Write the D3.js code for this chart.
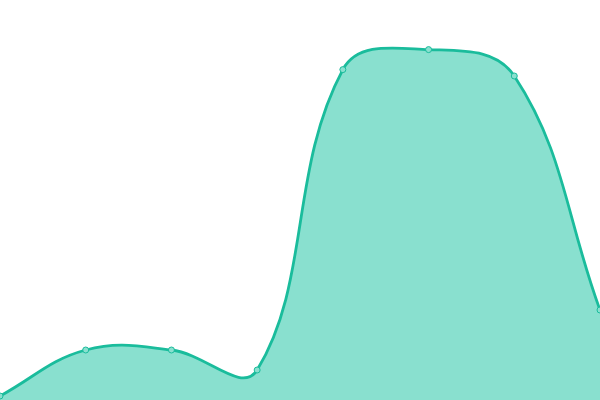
<!DOCTYPE html>
<html>
<head>
<meta charset="utf-8">
<script src="https://cdn.jsdelivr.net/npm/d3@7"></script>
<style>
  html, body { margin: 0; padding: 0; background: #fff; }
  svg { display: block; }
</style>
</head>
<body>
<div id="chart"></div>
<script>
// data
const categories = ['a', 'b', 'c', 'd', 'e', 'f', 'g', 'h']
const values = [1, 12.5, 12.5, 7.5, 82.6, 87.6, 81, 22.5]

let width = 600, height = 400

let svg = d3.select('#chart')
            .append('svg')
                .attr('width', width)
                .attr('height', height)

let x = d3.scalePoint().domain(categories).range([0, width])
let y = d3.scaleLinear().domain([0, 100]).range([height, 0])

let data = categories.map((c, i) => ({c: c, v: values[i]}))

// spline with distance weighted tangents (tension 0.4), as a d3 curve
function Spline(context) { this._context = context }
Spline.prototype = {
    areaStart() { this._line = 0 },
    areaEnd() { this._line = NaN },
    lineStart() { this._pts = [] },
    point(px, py) { this._pts.push([+px, +py]) },
    lineEnd() {
        let p = this._pts, n = p.length, t = 0.4, ctx = this._context
        if (n) {
            if (this._line) ctx.lineTo(p[0][0], p[0][1])
            else ctx.moveTo(p[0][0], p[0][1])
        }
        let cp = p.map((cur, i) => {
            let prev = p[i - 1] || cur, next = p[i + 1] || cur
            let d01 = Math.hypot(cur[0] - prev[0], cur[1] - prev[1])
            let d12 = Math.hypot(next[0] - cur[0], next[1] - cur[1])
            let s01 = d01 / (d01 + d12), s12 = d12 / (d01 + d12)
            if (isNaN(s01)) s01 = 0
            if (isNaN(s12)) s12 = 0
            let dx = next[0] - prev[0], dy = next[1] - prev[1]
            let clampY = v => Math.max(0, Math.min(height, v))
            return {
                prev: [cur[0] - t * s01 * dx, clampY(cur[1] - t * s01 * dy)],
                next: [cur[0] + t * s12 * dx, clampY(cur[1] + t * s12 * dy)]
            }
        })
        for (let i = 1; i < n; i++) {
            ctx.bezierCurveTo(cp[i - 1].next[0], cp[i - 1].next[1],
                              cp[i].prev[0], cp[i].prev[1],
                              p[i][0], p[i][1])
        }
        if (this._line || (this._line !== 0 && n === 1)) ctx.closePath()
        this._line = 1 - this._line
    }
}
let curve = context => new Spline(context)

let area = d3.area()
    .x(d => x(d.c))
    .y0(height)
    .y1(d => y(d.v))
    .curve(curve)

let line = d3.line()
    .x(d => x(d.c))
    .y(d => y(d.v))
    .curve(curve)

svg.append('path')
    .datum(data)
    .attr('d', area)
    .style('fill', '#89e0cf')

svg.append('path')
    .datum(data)
    .attr('d', line)
    .style('fill', 'none')
    .style('stroke', '#1abc9c')
    .style('stroke-width', 2.8)

svg.selectAll('circle')
    .data(data)
    .enter()
    .append('circle')
    .attr('cx', d => x(d.c))
    .attr('cy', d => y(d.v))
    .attr('r', 3)
    .style('fill', '#89e0cf')
    .style('stroke', '#1abc9c')
    .style('stroke-width', 1)
</script>
</body>
</html>
